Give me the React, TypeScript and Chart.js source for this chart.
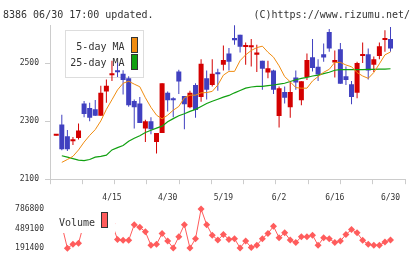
import React, { useEffect, useRef } from 'react';
import { Chart, registerables } from 'chart.js';
Chart.register(...registerables);

// ---- data ----
const headerLeft = '8386 06/30 17:00 updated.';
const headerRight = '(C)https://www.rizumu.net/';
const dateLabels = ['4/15', '4/30', '5/19', '6/2', '6/16', '6/30'];
const dateLabelIdx = [10, 20, 30, 40, 50, 60];
const priceTicks = [2100, 2300, 2500];
const volumeTicks = [191400, 489100, 786800];

const open = [2250, 2289, 2248, 2231, 2242, 2361, 2346, 2341, 2319, 2403, 2459, 2472, 2464, 2448, 2370, 2361, 2275, 2300, 2228, 2259, 2398, 2375, 2472, 2387, 2348, 2425, 2384, 2448, 2425, 2466, 2495, 2534, 2587, 2598, 2556, 2555, 2529, 2509, 2468, 2475, 2318, 2401, 2348, 2451, 2372, 2453, 2521, 2488, 2531, 2608, 2503, 2548, 2455, 2428, 2398, 2525, 2531, 2495, 2525, 2580, 2584];
const high = [2252, 2322, 2270, 2246, 2292, 2370, 2364, 2373, 2422, 2444, 2509, 2502, 2476, 2455, 2375, 2384, 2305, 2314, 2259, 2431, 2403, 2383, 2478, 2387, 2405, 2431, 2514, 2475, 2514, 2481, 2561, 2553, 2631, 2598, 2572, 2584, 2564, 2509, 2509, 2478, 2420, 2420, 2437, 2475, 2438, 2534, 2584, 2514, 2568, 2618, 2544, 2570, 2489, 2439, 2505, 2572, 2551, 2523, 2572, 2614, 2625];
const low = [2250, 2200, 2197, 2218, 2237, 2314, 2300, 2318, 2319, 2364, 2439, 2453, 2392, 2350, 2275, 2294, 2228, 2255, 2189, 2259, 2334, 2314, 2394, 2272, 2345, 2312, 2367, 2375, 2420, 2405, 2475, 2475, 2564, 2537, 2495, 2489, 2470, 2409, 2448, 2394, 2278, 2361, 2312, 2409, 2355, 2442, 2472, 2439, 2505, 2540, 2451, 2429, 2425, 2359, 2379, 2501, 2444, 2470, 2514, 2540, 2540];
const close = [2252, 2203, 2203, 2234, 2268, 2325, 2312, 2319, 2398, 2422, 2462, 2469, 2442, 2355, 2348, 2294, 2300, 2272, 2259, 2431, 2372, 2372, 2437, 2359, 2398, 2339, 2498, 2409, 2464, 2462, 2511, 2505, 2579, 2557, 2559, 2558, 2537, 2481, 2483, 2409, 2414, 2381, 2401, 2434, 2438, 2511, 2484, 2461, 2520, 2551, 2511, 2429, 2442, 2384, 2501, 2532, 2475, 2514, 2559, 2584, 2551];
const ma5 = [null, 2158, 2168, 2179, 2201, 2228, 2251, 2271, 2301, 2341, 2374, 2408, 2431, 2438, 2428, 2419, 2381, 2348, 2321, 2308, 2321, 2338, 2351, 2381, 2390, 2390, 2398, 2399, 2403, 2425, 2459, 2472, 2472, 2509, 2529, 2544, 2554, 2559, 2538, 2521, 2491, 2454, 2436, 2416, 2414, 2414, 2439, 2454, 2469, 2479, 2503, 2503, 2494, 2488, 2468, 2456, 2448, 2468, 2498, 2529, 2539];
const ma25 = [null, 2181, 2176, 2171, 2166, 2164, 2168, 2176, 2179, 2183, 2201, 2209, 2216, 2231, 2241, 2250, 2261, 2269, 2276, 2283, 2298, 2309, 2319, 2326, 2334, 2341, 2351, 2361, 2369, 2376, 2383, 2389, 2398, 2406, 2414, 2418, 2420, 2420, 2423, 2425, 2428, 2431, 2437, 2443, 2448, 2451, 2456, 2459, 2464, 2469, 2476, 2478, 2478, 2478, 2478, 2478, 2479, 2479, 2480, 2480, 2481];
const volume = [600000, 541000, 191400, 251000, 265800, 578000, 520000, 474000, 650000, 560000, 563000, 325000, 310500, 310500, 548600, 508000, 440000, 236000, 251000, 414700, 300000, 195000, 365600, 548600, 193000, 335800, 786800, 548600, 389400, 315000, 399800, 325400, 335800, 196000, 300000, 201800, 236000, 335800, 414700, 523300, 350700, 425100, 315000, 276200, 365600, 365600, 389400, 236000, 350700, 335800, 276200, 300000, 399800, 474200, 425100, 310500, 251000, 236000, 236000, 285300, 315000];

// ---- style ----
const RED = '#d40000';
const BLUE = '#4040c0';
const ORANGE = '#f08c10';
const GREEN = '#10a010';
const VOL = '#ff5c5c';
const AXIS = '#cccccc';
const TEXT = '#333333';
const MONO = '"DejaVu Sans Mono", monospace';
const X_MIN = -1.12;
const X_MAX = 62.6;

const idx = open.map((_, i) => i);
const candleColors = idx.map((i) => (close[i] >= open[i] ? RED : BLUE));

const mainDecor = {
  id: 'mainDecor',
  beforeDatasetsDraw(chart: any) {
    const ctx = chart.ctx;
    ctx.save();
    ctx.strokeStyle = '#dddddd';
    ctx.lineWidth = 1;
    ctx.strokeRect(65.5, 30.5, 78, 47);
    ctx.font = '10px ' + MONO;
    ctx.fillStyle = TEXT;
    ctx.textAlign = 'right';
    ctx.textBaseline = 'alphabetic';
    ctx.fillText('5-day MA', 124.5, 49.5);
    ctx.fillText('25-day MA', 124.5, 66);
    ctx.fillStyle = ORANGE;
    ctx.fillRect(131.5, 37.5, 6, 15);
    ctx.strokeStyle = '#333';
    ctx.strokeRect(131.5, 37.5, 6, 15);
    ctx.fillStyle = GREEN;
    ctx.fillRect(131.5, 54.5, 6, 15);
    ctx.strokeRect(131.5, 54.5, 6, 15);
    ctx.restore();
  },
  afterDraw(chart: any) {
    const ctx = chart.ctx;
    ctx.save();
    ctx.font = '10px ' + MONO;
    ctx.fillStyle = TEXT;
    ctx.textBaseline = 'alphabetic';
    ctx.textAlign = 'left';
    ctx.fillText(headerLeft, 3, 17.5);
    ctx.textAlign = 'right';
    ctx.fillText(headerRight, 410, 17.5);
    ctx.restore();
  },
};

const volDecor = {
  id: 'volDecor',
  afterDatasetsDraw(chart: any) {
    const ctx = chart.ctx;
    ctx.save();
    ctx.fillStyle = '#ffffff';
    ctx.fillRect(51, 13, 64, 30);
    ctx.font = '10px ' + MONO;
    ctx.fillStyle = TEXT;
    ctx.textAlign = 'left';
    ctx.textBaseline = 'alphabetic';
    ctx.fillText('Volume', 59, 35.6);
    ctx.fillStyle = VOL;
    ctx.fillRect(101.5, 22.5, 6, 15);
    ctx.strokeStyle = '#333';
    ctx.lineWidth = 1;
    ctx.strokeRect(101.5, 22.5, 6, 15);
    ctx.restore();
  },
};

export default function App() {
  const mainRef = useRef<HTMLCanvasElement | null>(null);
  const volRef = useRef<HTMLCanvasElement | null>(null);

  useEffect(() => {
    const main = new Chart(mainRef.current as HTMLCanvasElement, {
      type: 'bar',
      data: {
        datasets: [
          {
            type: 'line',
            label: '5-day MA',
            data: idx.map((i) => ({ x: i, y: ma5[i] })),
            borderColor: ORANGE,
            borderWidth: 1,
            pointRadius: 0,
            order: 0,
          } as any,
          {
            type: 'line',
            label: '25-day MA',
            data: idx.map((i) => ({ x: i, y: ma25[i] })),
            borderColor: GREEN,
            borderWidth: 1.2,
            pointRadius: 0,
            order: 0,
          } as any,
          {
            type: 'bar',
            label: 'body',
            data: idx.map((i) => ({ x: i, y: [open[i], close[i]] })),
            backgroundColor: candleColors,
            barThickness: 5,
            minBarLength: 2,
            grouped: false,
            inflateAmount: 0,
            borderWidth: 0,
            order: 1,
          } as any,
          {
            type: 'bar',
            label: 'wick',
            data: idx.map((i) => ({ x: i, y: [low[i], high[i]] })),
            backgroundColor: candleColors,
            barThickness: 1,
            grouped: false,
            inflateAmount: 0,
            borderWidth: 0,
            order: 2,
          } as any,
        ],
      },
      options: {
        animation: false,
        responsive: false,
        events: [],
        layout: { padding: { left: 0, right: 15, top: 25, bottom: 0 } },
        plugins: { legend: { display: false }, tooltip: { enabled: false } },
        scales: {
          x: {
            type: 'linear',
            min: X_MIN,
            max: X_MAX,
            offset: false,
            afterBuildTicks: (s: any) => {
              const n = 11;
              s.ticks = Array.from({ length: n + 1 }, (_, k) => ({ value: s.min + ((s.max - s.min) * k) / n }));
            },
            afterFit: (s: any) => {
              s.height = 6;
            },
            ticks: { display: false },
            grid: { drawOnChartArea: false, drawTicks: true, tickLength: 5, color: AXIS, offset: false },
            border: { color: AXIS },
          },
          y: {
            type: 'linear',
            min: 2100,
            max: 2632,
            afterBuildTicks: (s: any) => {
              s.ticks = priceTicks.map((v) => ({ value: v }));
            },
            afterFit: (s: any) => {
              s.width = 50;
            },
            ticks: { font: { family: MONO, size: 8 }, color: TEXT, padding: 6, callback: (v: any) => String(v) },
            grid: { drawOnChartArea: false, drawTicks: true, tickLength: 5, color: AXIS },
            border: { color: AXIS },
          },
        },
      } as any,
      plugins: [mainDecor],
    });

    const vol = new Chart(volRef.current as HTMLCanvasElement, {
      type: 'line',
      data: {
        datasets: [
          {
            label: 'Volume',
            data: idx.map((i) => ({ x: i, y: volume[i] })),
            borderColor: VOL,
            borderWidth: 1,
            pointStyle: 'rectRot',
            pointRadius: 3.5,
            pointBackgroundColor: VOL,
            pointBorderWidth: 0,
            clip: false,
          } as any,
        ],
      },
      options: {
        animation: false,
        responsive: false,
        events: [],
        layout: { padding: { left: 0, right: 15, top: 0, bottom: 10 } },
        plugins: { legend: { display: false }, tooltip: { enabled: false } },
        scales: {
          x: {
            type: 'linear',
            position: 'top',
            min: X_MIN,
            max: X_MAX,
            offset: false,
            afterBuildTicks: (s: any) => {
              s.ticks = dateLabelIdx.map((v) => ({ value: v }));
            },
            afterFit: (s: any) => {
              s.height = 19;
            },
            ticks: {
              font: { family: MONO, size: 8 },
              color: TEXT,
              padding: 6,
              autoSkip: false,
              maxRotation: 0,
              callback: (_v: any, index: number) => dateLabels[index],
            },
            grid: { display: false, drawTicks: false },
            border: { display: false },
          },
          y: {
            type: 'linear',
            min: volumeTicks[0],
            max: volumeTicks[volumeTicks.length - 1],
            afterBuildTicks: (s: any) => {
              s.ticks = volumeTicks.map((v) => ({ value: v }));
            },
            afterFit: (s: any) => {
              s.width = 50;
            },
            ticks: { font: { family: MONO, size: 8 }, color: TEXT, padding: 6, callback: (v: any) => String(v) },
            grid: { display: false, drawTicks: false },
            border: { display: false },
          },
        },
      } as any,
      plugins: [volDecor],
    });

    return () => {
      main.destroy();
      vol.destroy();
    };
  }, []);

  return (
    <div style={{ position: 'absolute', left: 0, top: 0, width: 420, height: 259, background: '#fff' }}>
      <canvas ref={mainRef} width={420} height={190} style={{ position: 'absolute', left: 0, top: 0, width: 420, height: 190 }} />
      <canvas ref={volRef} width={420} height={69} style={{ position: 'absolute', left: 0, top: 190, width: 420, height: 69 }} />
    </div>
  );
}
